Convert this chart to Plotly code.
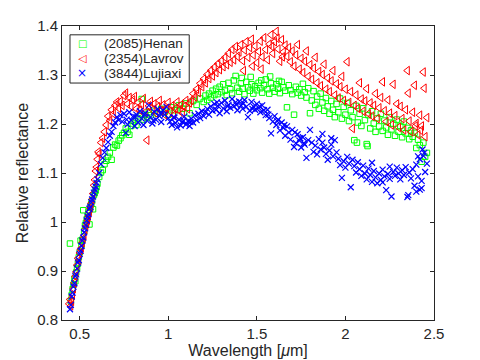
import plotly.graph_objects as go

# ---- data (wavelength in um, relative reflectance) ----
henan_x = [
    0.445, 0.45, 0.455, 0.46, 0.465, 0.47, 0.475, 0.48, 0.485, 0.49,
    0.495, 0.50, 0.505, 0.51, 0.515, 0.52, 0.525, 0.53, 0.535, 0.54,
    0.545, 0.55, 0.555, 0.56, 0.565, 0.57, 0.575, 0.58, 0.585, 0.59,
    0.595, 0.60, 0.61, 0.62, 0.63, 0.64, 0.65, 0.66, 0.67, 0.68,
    0.69, 0.70, 0.71, 0.72, 0.73, 0.74, 0.75, 0.76, 0.77, 0.78,
    0.79, 0.80, 0.81, 0.82, 0.83, 0.84, 0.85, 0.86, 0.87, 0.88,
    0.89, 0.90, 0.92, 0.94, 0.96, 0.98, 1.00, 1.02, 1.04, 1.06,
    1.08, 1.10, 1.12, 1.14, 1.16, 1.18, 1.20, 1.21, 1.22, 1.23,
    1.24, 1.25, 1.26, 1.27, 1.28, 1.29, 1.30, 1.31, 1.32, 1.33,
    1.34, 1.35, 1.36, 1.37, 1.38, 1.39, 1.40, 1.41, 1.42, 1.43,
    1.44, 1.45, 1.46, 1.47, 1.48, 1.49, 1.50, 1.51, 1.52, 1.53,
    1.54, 1.55, 1.56, 1.57, 1.58, 1.59, 1.60, 1.61, 1.62, 1.63,
    1.64, 1.65, 1.66, 1.67, 1.68, 1.69, 1.70, 1.71, 1.72, 1.73,
    1.74, 1.75, 1.76, 1.77, 1.78, 1.79, 1.80, 1.81, 1.82, 1.83,
    1.84, 1.85, 1.86, 1.87, 1.88, 1.89, 1.90, 1.91, 1.92, 1.93,
    1.94, 1.95, 1.96, 1.97, 1.98, 1.99, 2.00, 2.01, 2.02, 2.03,
    2.04, 2.05, 2.06, 2.07, 2.08, 2.09, 2.10, 2.11, 2.12, 2.13,
    2.14, 2.15, 2.16, 2.17, 2.18, 2.19, 2.20, 2.21, 2.22, 2.23,
    2.24, 2.25, 2.26, 2.27, 2.28, 2.29, 2.30, 2.31, 2.32, 2.33,
    2.34, 2.35, 2.36, 2.37, 2.38, 2.39, 2.40, 2.41, 2.42, 2.43,
    2.44, 2.45, 2.46, 2.065, 2.125, 1.415, 1.465, 1.525, 1.575, 1.625,
]
henan_y = [
    0.956, 0.838, 0.851, 0.863, 0.872, 0.884, 0.879, 0.897, 0.906, 0.915,
    0.928, 0.938, 0.962, 0.952, 0.964, 1.024, 0.981, 0.993, 0.998, 1.006,
    1.013, 1.021, 0.995, 1.029, 1.037, 1.043, 1.026, 1.055, 1.059, 1.064,
    1.071, 1.078, 1.092, 1.101, 1.106, 1.118, 1.125, 1.133, 1.141, 1.127,
    1.152, 1.158, 1.156, 1.166, 1.171, 1.177, 1.182, 1.191, 1.184, 1.178,
    1.196, 1.201, 1.205, 1.198, 1.212, 1.216, 1.251, 1.209, 1.219, 1.213,
    1.224, 1.218, 1.227, 1.221, 1.231, 1.225, 1.219, 1.234, 1.228, 1.238,
    1.231, 1.242, 1.222, 1.247, 1.239, 1.252, 1.245, 1.258, 1.249, 1.262,
    1.254, 1.268, 1.259, 1.272, 1.261, 1.276, 1.265, 1.281, 1.268, 1.259,
    1.284, 1.271, 1.263, 1.289, 1.298, 1.274, 1.266, 1.283, 1.272, 1.261,
    1.286, 1.275, 1.268, 1.281, 1.262, 1.277, 1.269, 1.284, 1.273, 1.264,
    1.279, 1.291, 1.271, 1.262, 1.283, 1.274, 1.266, 1.281, 1.272, 1.263,
    1.286, 1.275, 1.268, 1.234, 1.279, 1.269, 1.261, 1.219, 1.276, 1.264,
    1.271, 1.258, 1.282, 1.265, 1.254, 1.273, 1.222, 1.248, 1.267, 1.239,
    1.256, 1.231, 1.262, 1.244, 1.227, 1.253, 1.236, 1.221, 1.247, 1.229,
    1.214, 1.241, 1.224, 1.252, 1.211, 1.235, 1.219, 1.243, 1.206, 1.228,
    1.214, 1.167, 1.237, 1.203, 1.221, 1.196, 1.232, 1.208, 1.159, 1.218,
    1.191, 1.226, 1.201, 1.184, 1.212, 1.195, 1.221, 1.186, 1.207, 1.193,
    1.178, 1.214, 1.189, 1.201, 1.176, 1.209, 1.184, 1.196, 1.173, 1.205,
    1.181, 1.192, 1.169, 1.187, 1.174, 1.182, 1.151, 1.168, 1.157, 1.123,
    1.162, 1.133, 1.141, 1.162, 1.155, 1.294, 1.296, 1.289, 1.297, 1.288,
]

lavrov_x = [
    0.44, 0.445, 0.45, 0.455, 0.46, 0.465, 0.47, 0.475, 0.48, 0.485,
    0.49, 0.495, 0.50, 0.505, 0.51, 0.515, 0.52, 0.525, 0.53, 0.535,
    0.54, 0.545, 0.55, 0.555, 0.56, 0.565, 0.57, 0.575, 0.58, 0.585,
    0.59, 0.595, 0.60, 0.605, 0.61, 0.62, 0.63, 0.64, 0.65, 0.66,
    0.67, 0.68, 0.69, 0.70, 0.71, 0.72, 0.73, 0.74, 0.75, 0.76,
    0.77, 0.78, 0.79, 0.80, 0.81, 0.82, 0.83, 0.84, 0.85, 0.86,
    0.87, 0.88, 0.89, 0.90, 0.91, 0.92, 0.93, 0.94, 0.95, 0.96,
    0.97, 0.98, 0.99, 1.00, 1.01, 1.02, 1.03, 1.04, 1.05, 1.06,
    1.07, 1.08, 1.09, 1.10, 1.11, 1.12, 1.13, 1.14, 1.15, 1.16,
    1.17, 1.18, 1.19, 1.20, 1.21, 1.22, 1.23, 1.24, 1.25, 1.26,
    1.27, 1.28, 1.29, 1.30, 1.31, 1.32, 1.33, 1.34, 1.35, 1.36,
    1.37, 1.38, 1.39, 1.40, 1.41, 1.42, 1.43, 1.44, 1.45, 1.46,
    1.47, 1.48, 1.49, 1.50, 1.51, 1.52, 1.53, 1.54, 1.55, 1.56,
    1.57, 1.58, 1.59, 1.60, 1.61, 1.62, 1.63, 1.64, 1.65, 1.66,
    1.67, 1.68, 1.69, 1.70, 1.71, 1.72, 1.73, 1.74, 1.75, 1.76,
    1.77, 1.78, 1.79, 1.80, 1.81, 1.82, 1.83, 1.84, 1.85, 1.86,
    1.87, 1.88, 1.89, 1.90, 1.91, 1.92, 1.93, 1.94, 1.95, 1.96,
    1.97, 1.98, 1.99, 2.00, 2.01, 2.02, 2.03, 2.04, 2.05, 2.06,
    2.07, 2.08, 2.09, 2.10, 2.11, 2.12, 2.13, 2.14, 2.15, 2.16,
    2.17, 2.18, 2.19, 2.20, 2.21, 2.22, 2.23, 2.24, 2.25, 2.26,
    2.27, 2.28, 2.29, 2.30, 2.31, 2.32, 2.33, 2.34, 2.35, 2.36,
    2.37, 2.38, 2.39, 2.40, 2.41, 2.42, 2.43, 2.44, 2.45, 2.46,
    2.445, 2.355, 2.395, 2.425, 1.425, 1.475, 1.525, 1.585, 1.615, 1.645,
]
lavrov_y = [
    0.833, 0.842, 0.829, 0.838, 0.851, 0.864, 0.876, 0.889, 0.898, 0.912,
    0.926, 0.921, 0.937, 0.944, 0.947, 0.958, 0.966, 0.972, 0.984, 0.991,
    0.998, 1.004, 1.012, 1.021, 1.029, 1.038, 1.046, 1.058, 1.075, 1.086,
    1.104, 1.112, 1.128, 1.143, 1.139, 1.162, 1.171, 1.184, 1.198, 1.216,
    1.207, 1.229, 1.221, 1.238, 1.245, 1.232, 1.246, 1.238, 1.258, 1.263,
    1.241, 1.254, 1.236, 1.249, 1.256, 1.231, 1.244, 1.228, 1.239, 1.252,
    1.224, 1.167, 1.237, 1.246, 1.229, 1.241, 1.222, 1.235, 1.248, 1.227,
    1.239, 1.219, 1.232, 1.244, 1.226, 1.237, 1.218, 1.231, 1.245, 1.228,
    1.239, 1.222, 1.236, 1.248, 1.231, 1.243, 1.248, 1.262, 1.255, 1.271,
    1.264, 1.283, 1.276, 1.292, 1.284, 1.301, 1.293, 1.309, 1.298, 1.316,
    1.305, 1.323, 1.311, 1.329, 1.317, 1.336, 1.321, 1.344, 1.326, 1.352,
    1.331, 1.358, 1.338, 1.347, 1.362, 1.329, 1.351, 1.368, 1.336, 1.356,
    1.373, 1.341, 1.359, 1.325, 1.348, 1.369, 1.337, 1.376, 1.352, 1.331,
    1.363, 1.382, 1.344, 1.368, 1.389, 1.353, 1.328, 1.372, 1.347, 1.361,
    1.338, 1.356, 1.327, 1.349, 1.318, 1.341, 1.362, 1.312, 1.334, 1.305,
    1.328, 1.349, 1.297, 1.321, 1.291, 1.314, 1.336, 1.284, 1.307, 1.278,
    1.301, 1.322, 1.271, 1.294, 1.266, 1.288, 1.309, 1.259, 1.282, 1.253,
    1.276, 1.297, 1.248, 1.271, 1.327, 1.244, 1.266, 1.191, 1.238, 1.259,
    1.232, 1.284, 1.251, 1.226, 1.247, 1.272, 1.221, 1.243, 1.216, 1.238,
    1.262, 1.211, 1.233, 1.254, 1.286, 1.227, 1.205, 1.249, 1.222, 1.198,
    1.281, 1.217, 1.241, 1.193, 1.236, 1.211, 1.188, 1.229, 1.309, 1.206,
    1.184, 1.224, 1.279, 1.201, 1.178, 1.218, 1.196, 1.306, 1.174, 1.213,
    1.273, 1.263, 1.196, 1.187, 1.309, 1.318, 1.312, 1.358, 1.375, 1.337,
]

lujiaxi_x = [
    0.445, 0.45, 0.455, 0.46, 0.465, 0.47, 0.475, 0.48, 0.485, 0.49,
    0.495, 0.50, 0.505, 0.51, 0.515, 0.52, 0.525, 0.53, 0.535, 0.54,
    0.545, 0.55, 0.555, 0.56, 0.565, 0.57, 0.575, 0.58, 0.585, 0.59,
    0.595, 0.60, 0.61, 0.62, 0.63, 0.64, 0.65, 0.66, 0.67, 0.68,
    0.69, 0.70, 0.71, 0.72, 0.73, 0.74, 0.75, 0.76, 0.77, 0.78,
    0.79, 0.80, 0.81, 0.82, 0.83, 0.84, 0.85, 0.86, 0.87, 0.88,
    0.89, 0.90, 0.91, 0.92, 0.93, 0.94, 0.95, 0.96, 0.97, 0.98,
    0.99, 1.00, 1.01, 1.02, 1.03, 1.04, 1.05, 1.06, 1.07, 1.08,
    1.09, 1.10, 1.11, 1.12, 1.13, 1.14, 1.15, 1.16, 1.17, 1.18,
    1.19, 1.20, 1.21, 1.22, 1.23, 1.24, 1.25, 1.26, 1.27, 1.28,
    1.29, 1.30, 1.31, 1.32, 1.33, 1.34, 1.35, 1.36, 1.37, 1.38,
    1.39, 1.40, 1.41, 1.42, 1.43, 1.44, 1.45, 1.46, 1.47, 1.48,
    1.49, 1.50, 1.51, 1.52, 1.53, 1.54, 1.55, 1.56, 1.57, 1.58,
    1.59, 1.60, 1.61, 1.62, 1.63, 1.64, 1.65, 1.66, 1.67, 1.68,
    1.69, 1.70, 1.71, 1.72, 1.73, 1.74, 1.75, 1.76, 1.77, 1.78,
    1.79, 1.80, 1.81, 1.82, 1.83, 1.84, 1.85, 1.86, 1.87, 1.88,
    1.89, 1.90, 1.91, 1.92, 1.93, 1.94, 1.95, 1.96, 1.97, 1.98,
    1.99, 2.00, 2.01, 2.02, 2.03, 2.04, 2.05, 2.06, 2.07, 2.08,
    2.09, 2.10, 2.11, 2.12, 2.13, 2.14, 2.15, 2.16, 2.17, 2.18,
    2.19, 2.20, 2.21, 2.22, 2.23, 2.24, 2.25, 2.26, 2.27, 2.28,
    2.29, 2.30, 2.31, 2.32, 2.33, 2.34, 2.35, 2.36, 2.37, 2.38,
    2.39, 2.40, 2.41, 2.42, 2.43, 2.44, 2.45, 2.46, 2.355, 2.40,
    2.43, 2.435, 2.445, 2.42, 2.41, 2.21, 2.25, 2.15, 1.92, 1.87,
    0.765, 0.815, 0.865, 0.915, 0.955, 1.035, 1.085, 1.125, 1.275, 1.335,
    1.385, 1.425, 1.475, 1.515, 1.565, 1.615, 1.655, 1.715, 1.745, 1.765,
]
lujiaxi_y = [
    0.822, 0.831, 0.848, 0.856, 0.868, 0.875, 0.889, 0.893, 0.905, 0.917,
    0.922, 0.935, 0.941, 0.951, 0.962, 0.968, 0.979, 0.987, 0.994, 1.003,
    1.011, 1.016, 1.027, 1.031, 1.040, 1.046, 1.052, 1.060, 1.066, 1.072,
    1.080, 1.087, 1.100, 1.118, 1.131, 1.142, 1.151, 1.163, 1.176, 1.184,
    1.196, 1.203, 1.214, 1.208, 1.218, 1.205, 1.221, 1.182, 1.199, 1.224,
    1.208, 1.215, 1.196, 1.219, 1.203, 1.226, 1.211, 1.198, 1.222, 1.207,
    1.238, 1.214, 1.201, 1.225, 1.209, 1.231, 1.216, 1.204, 1.228, 1.219,
    1.235, 1.212, 1.205, 1.198, 1.214, 1.202, 1.193, 1.209, 1.197, 1.204,
    1.215, 1.199, 1.206, 1.196, 1.211, 1.203, 1.218, 1.208, 1.221, 1.212,
    1.226, 1.216, 1.224, 1.231, 1.219, 1.236, 1.227, 1.241, 1.229, 1.237,
    1.222, 1.243, 1.232, 1.248, 1.226, 1.239, 1.233, 1.251, 1.236, 1.244,
    1.228, 1.246, 1.238, 1.231, 1.249, 1.235, 1.214, 1.227, 1.245, 1.236,
    1.229, 1.241, 1.233, 1.224, 1.238, 1.228, 1.218, 1.229, 1.212, 1.181,
    1.205, 1.216, 1.198, 1.209, 1.187, 1.203, 1.192, 1.176, 1.195, 1.183,
    1.168, 1.188, 1.153, 1.161, 1.179, 1.166, 1.152, 1.173, 1.158, 1.131,
    1.167, 1.188, 1.162, 1.143, 1.156, 1.138, 1.169, 1.148, 1.180, 1.152,
    1.139, 1.127, 1.146, 1.158, 1.134, 1.167, 1.142, 1.129, 1.116, 1.090,
    1.124, 1.111, 1.133, 1.119, 1.071, 1.127, 1.114, 1.101, 1.122, 1.108,
    1.094, 1.115, 1.099, 1.087, 1.109, 1.096, 1.082, 1.104, 1.091, 1.079,
    1.099, 1.086, 1.107, 1.093, 1.065, 1.098, 1.088, 1.052, 1.102, 1.094,
    1.111, 1.099, 1.087, 1.106, 1.096, 1.112, 1.051, 1.101, 1.089, 1.108,
    1.074, 1.117, 1.093, 1.128, 1.084, 1.135, 1.102, 1.119, 1.055, 1.062,
    1.069, 1.148, 1.141, 1.066, 1.134, 1.081, 1.113, 1.121, 1.171, 1.162,
    1.209, 1.214, 1.219, 1.207, 1.222, 1.213, 1.207, 1.204, 1.244, 1.236,
    1.239, 1.242, 1.231, 1.236, 1.219, 1.206, 1.198, 1.183, 1.171, 1.161,
]

series_names = ["(2085)Henan", "(2354)Lavrov", "(3844)Lujiaxi"]
series_colors = ["#00FF00", "#FF0000", "#0000FF"]
legend_glyphs = ["□", "◁", "×"]

x_ticks = [0.5, 1, 1.5, 2, 2.5]
y_ticks = [0.8, 0.9, 1.0, 1.1, 1.2, 1.3, 1.4]
y_ticktext = ["0.8", "0.9", "1", "1.1", "1.2", "1.3", "1.4"]

AXIS_COLOR = "#262626"
FONT = "Liberation Sans, Arial, sans-serif"

fig = go.Figure()

fig.add_trace(go.Scatter(
    x=henan_x, y=henan_y, mode="markers", name=series_names[0],
    marker=dict(symbol="square-open", size=5.5, color=series_colors[0],
                line=dict(width=1)),
))
fig.add_trace(go.Scatter(
    x=lavrov_x, y=lavrov_y, mode="markers", name=series_names[1],
    marker=dict(symbol="triangle-left-open", size=7.5, color=series_colors[1],
                line=dict(width=1)),
))
fig.add_trace(go.Scatter(
    x=lujiaxi_x, y=lujiaxi_y, mode="markers", name=series_names[2],
    marker=dict(symbol="x-thin-open", size=6, color=series_colors[2],
                line=dict(width=1.2, color=series_colors[2])),
))

axis_style = dict(
    showline=True, mirror="ticks", linecolor=AXIS_COLOR, linewidth=1,
    ticks="inside", ticklen=4, tickcolor=AXIS_COLOR, showgrid=False,
    zeroline=False, automargin=False,
    tickfont=dict(size=15, color=AXIS_COLOR),
)

fig.update_xaxes(
    range=[0.4, 2.5], tickvals=x_ticks,
    title=dict(text="Wavelength [<i>μ</i>m]", standoff=0,
               font=dict(size=16, color=AXIS_COLOR)),
    **axis_style,
)
fig.update_yaxes(
    range=[0.8, 1.4], tickvals=y_ticks, ticktext=y_ticktext,
    title=dict(text="Relative reflectance", standoff=4,
               font=dict(size=16, color=AXIS_COLOR)),
    **axis_style,
)

# legend drawn as a framed box with coloured marker glyphs (MATLAB-style spacing)
fig.add_shape(type="rect", xref="paper", yref="paper",
              x0=0.0215, x1=0.342, y0=0.806, y1=0.970,
              line=dict(color=AXIS_COLOR, width=1), fillcolor="white",
              layer="above")
row_y = [0.942, 0.890, 0.840]
glyph_size = [10, 11, 12]
for name, color, glyph, yy, gs in zip(series_names, series_colors,
                                      legend_glyphs, row_y, glyph_size):
    fig.add_annotation(xref="paper", yref="paper", x=0.0538, y=yy,
                       text=glyph, showarrow=False, xanchor="center",
                       yanchor="middle",
                       font=dict(family="DejaVu Sans", size=gs, color=color))
    fig.add_annotation(xref="paper", yref="paper", x=0.108, y=yy,
                       text=name, showarrow=False, xanchor="left",
                       yanchor="middle",
                       font=dict(family=FONT, size=13.5, color=AXIS_COLOR))

# the page body adds an 8px margin, so the figure is 8px smaller on each axis
fig.update_layout(
    width=472, height=352,
    margin=dict(l=54, r=46, t=18, b=40),
    paper_bgcolor="white", plot_bgcolor="white",
    font=dict(family=FONT, size=14, color=AXIS_COLOR),
    showlegend=False,
)

fig.write_html("out.html")
